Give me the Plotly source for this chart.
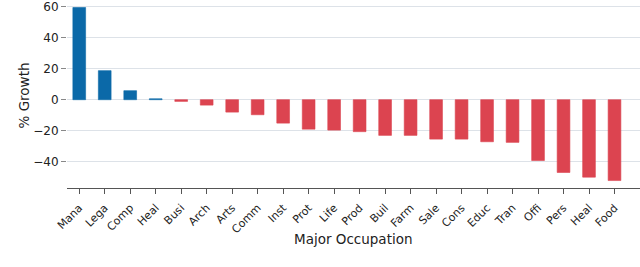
import plotly.graph_objects as go

# Occupation labels (abbreviated) and % growth
occupations = ["Mana", "Lega", "Comp", "Heal", "Busi", "Arch", "Arts", "Comm",
               "Inst", "Prot", "Life", "Prod", "Buil", "Farm", "Sale", "Cons",
               "Educ", "Tran", "Offi", "Pers", "Heal", "Food"]
growth = [59.4, 18.7, 5.8, 0.6, -1.1, -3.5, -8.0, -9.7,
          -15.1, -19.0, -19.6, -20.6, -23.0, -23.0, -25.4, -25.4,
          -27.1, -27.5, -39.2, -46.9, -49.9, -52.1]

BLUE = "#0b69a8"
RED = "#dc4450"
colors = [BLUE if g > 0 else RED for g in growth]

positions = list(range(len(occupations)))

fig = go.Figure(
    go.Bar(
        x=positions,
        y=growth,
        width=0.5,
        marker=dict(color=colors, line=dict(color=colors, width=0.6)),
    )
)

font = "DejaVu Sans, Verdana, sans-serif"

fig.update_layout(
    width=640,
    height=267,
    margin=dict(l=67, r=0, t=3, b=79),
    plot_bgcolor="white",
    paper_bgcolor="white",
    showlegend=False,
    font=dict(family=font, size=12, color="#222222"),
)

fig.update_xaxes(
    tickmode="array",
    tickvals=positions,
    ticktext=occupations,
    tickangle=-45,
    range=[-0.48, 22.0],
    automargin=False,
    showline=True,
    linecolor="#555555",
    linewidth=1.2,
    ticks="outside",
    ticklen=5,
    tickcolor="#555555",
    ticklabelstandoff=3,
    showgrid=False,
    tickfont=dict(size=11),
)

fig.update_yaxes(
    range=[-56.9, 62.3],
    tickvals=[-40, -20, 0, 20, 40, 60],
    ticktext=["\u221240", "\u221220", "0", "20", "40", "60"],
    automargin=False,
    ticklabeloverflow="allow",
    showgrid=True,
    gridcolor="#dde2e8",
    gridwidth=1,
    zeroline=True,
    zerolinecolor="#dde2e8",
    zerolinewidth=1,
    showline=False,
    ticks="outside",
    ticklen=5,
    tickcolor="#888888",
    tickfont=dict(size=12),
    title=dict(text="% Growth", font=dict(size=13.5), standoff=0),
)

# x-axis title placed as an annotation so it sits where the original does
fig.add_annotation(
    text="Major Occupation",
    xref="paper", yref="paper",
    x=0.5, y=-0.278,
    xanchor="center", yanchor="middle",
    showarrow=False,
    font=dict(size=13.5),
)

# drop the browser's default body margin so the figure sits at the page corner
fig.write_html(
    "out.html",
    config={"displayModeBar": False},
    post_script="document.body.style.margin='0';",
)
